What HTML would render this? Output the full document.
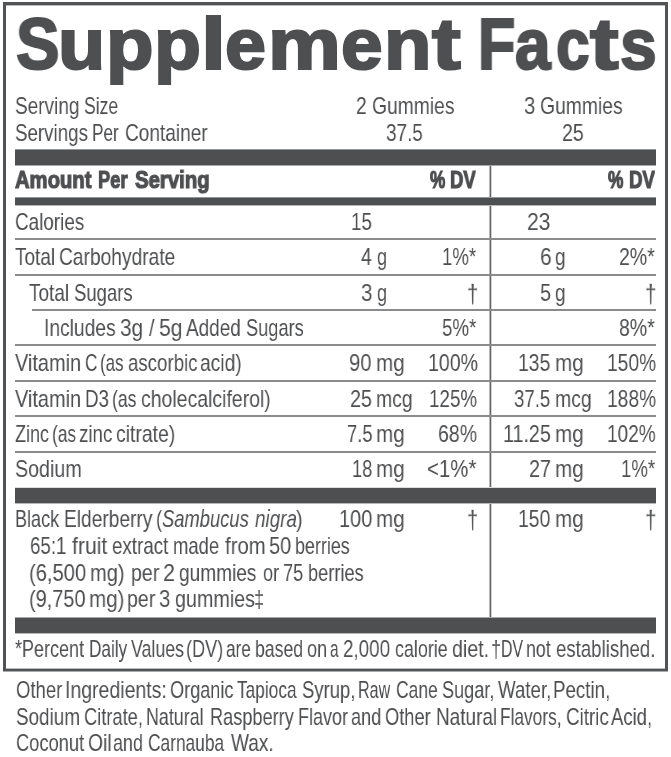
<!DOCTYPE html><html><head><meta charset="utf-8"><title>Supplement Facts</title><style>
html,body{margin:0;padding:0;background:#fff}
body{width:671px;height:757px;position:relative;overflow:hidden;font-family:"Liberation Sans",sans-serif;color:#4e4f51}
.t{position:absolute;white-space:pre;line-height:1;transform-origin:0 0;font-size:24px;will-change:transform}
.h{font-size:72px;font-weight:700;-webkit-text-stroke:2.2px currentColor}
.b{position:absolute;background:#4e4f51}
.l{position:absolute;background:#8a8b8d;height:2px}
</style></head><body>
<div style="position:absolute;left:3px;top:2px;width:665px;height:3px;background:#525355"></div>
<div style="position:absolute;left:6px;top:5px;width:659px;height:1px;background:#b9babb"></div>
<div style="position:absolute;left:3px;top:2px;width:3px;height:670px;background:#525355"></div>
<div style="position:absolute;left:665px;top:2px;width:3px;height:670px;background:#525355"></div>
<div style="position:absolute;left:3px;top:669px;width:665px;height:2px;background:#525355"></div>
<div style="position:absolute;left:6px;top:668px;width:659px;height:1px;background:#b9babb"></div>
<div style="position:absolute;left:3px;top:671px;width:665px;height:1px;background:#a8a9aa"></div>
<div style="position:absolute;left:489px;top:165px;width:1px;height:453px;background:#b6b6b7"></div>
<div style="position:absolute;left:490px;top:165px;width:1px;height:453px;background:#636466"></div>
<div style="position:absolute;left:491px;top:165px;width:1px;height:453px;background:#d3d3d4"></div>
<div class="b" style="left:15px;top:150px;width:641.00px;height:15.00px;"></div>
<div class="b" style="left:15px;top:149px;width:641.00px;height:1.00px;background:#949596"></div>
<div class="b" style="left:15px;top:165px;width:641.00px;height:1.00px;background:#a6a7a8"></div>
<div class="b" style="left:15px;top:198px;width:641.00px;height:7.00px;"></div>
<div class="b" style="left:15px;top:197px;width:641.00px;height:1.00px;background:#949596"></div>
<div class="b" style="left:15px;top:205px;width:641.00px;height:1.00px;background:#b8b8b9"></div>
<div class="b" style="left:15px;top:488px;width:641.00px;height:15.00px;"></div>
<div class="b" style="left:15px;top:487px;width:641.00px;height:1.00px;background:#dbdbdc"></div>
<div class="b" style="left:15px;top:503px;width:641.00px;height:1.00px;background:#b8b8b9"></div>
<div class="b" style="left:15px;top:618px;width:641.00px;height:15.00px;"></div>
<div class="b" style="left:15px;top:617px;width:641.00px;height:1.00px;background:#a6a7a8"></div>
<div class="b" style="left:15px;top:633px;width:641.00px;height:1.00px;background:#b8b8b9"></div>
<div class="l" style="left:15px;top:238px;width:641px"></div>
<div class="l" style="left:15px;top:274px;width:641px"></div>
<div class="l" style="left:32px;top:309px;width:624px"></div>
<div class="l" style="left:15px;top:344px;width:641px"></div>
<div class="l" style="left:15px;top:380px;width:641px"></div>
<div class="l" style="left:15px;top:415px;width:641px"></div>
<div class="l" style="left:15px;top:451px;width:641px"></div>
<span class="t h" style="left:15.51px;top:8px;transform:scaleX(0.9052);">S</span>
<span class="t h" style="left:57.88px;top:8px;transform:scaleX(1.0730);">u</span>
<span class="t h" style="left:106.00px;top:8px;transform:scaleX(1.0810);">p</span>
<span class="t h" style="left:153.85px;top:8px;transform:scaleX(1.0680);">p</span>
<span class="t h" style="left:200.69px;top:8px;transform:scaleX(1.2506);">l</span>
<span class="t h" style="left:225.12px;top:8px;transform:scaleX(1.0226);">e</span>
<span class="t h" style="left:268.29px;top:8px;transform:scaleX(1.1379);">m</span>
<span class="t h" style="left:341.49px;top:8px;transform:scaleX(1.0387);">e</span>
<span class="t h" style="left:384.40px;top:8px;transform:scaleX(1.0780);">n</span>
<span class="t h" style="left:432.07px;top:8px;transform:scaleX(1.1999);">t</span>
<span class="t h" style="left:478.05px;top:8px;transform:scaleX(0.8471);">F</span>
<span class="t h" style="left:514.61px;top:8px;transform:scaleX(0.8878);">a</span>
<span class="t h" style="left:555.94px;top:8px;transform:scaleX(0.8372);">c</span>
<span class="t h" style="left:590.17px;top:8px;transform:scaleX(1.1917);">t</span>
<span class="t h" style="left:620.18px;top:8px;transform:scaleX(0.9152);">s</span>
<span class="t" style="left:15.01px;top:94px;transform:scaleX(0.7924);">Serving</span>
<span class="t" style="left:84.37px;top:94px;transform:scaleX(0.7327);">Size</span>
<span class="t" style="left:15.02px;top:121px;transform:scaleX(0.7804);">Servings</span>
<span class="t" style="left:92.09px;top:121px;transform:scaleX(0.7165);">Per</span>
<span class="t" style="left:124.61px;top:121px;transform:scaleX(0.7942);">Container</span>
<span class="t" style="left:356.20px;top:94px;transform:scaleX(0.7988);">2</span>
<span class="t" style="left:371.70px;top:94px;transform:scaleX(0.8030);">Gummies</span>
<span class="t" style="left:386.31px;top:121px;transform:scaleX(0.7888);">37.5</span>
<span class="t" style="left:523.96px;top:94px;transform:scaleX(0.8473);">3</span>
<span class="t" style="left:539.70px;top:94px;transform:scaleX(0.8050);">Gummies</span>
<span class="t" style="left:562.18px;top:121px;transform:scaleX(0.8160);">25</span>
<span class="t" style="left:15.07px;top:168px;transform:scaleX(0.8427);font-weight:700;-webkit-text-stroke:1.2px currentColor;">Amount</span>
<span class="t" style="left:97.74px;top:168px;transform:scaleX(0.7632);font-weight:700;-webkit-text-stroke:1.2px currentColor;">Per</span>
<span class="t" style="left:135.00px;top:168px;transform:scaleX(0.8483);font-weight:700;-webkit-text-stroke:1.2px currentColor;">Serving</span>
<span class="t" style="left:429.80px;top:168px;transform:scaleX(0.7196);font-weight:700;-webkit-text-stroke:1.2px currentColor;">%</span>
<span class="t" style="left:450.43px;top:168px;transform:scaleX(0.7727);font-weight:700;-webkit-text-stroke:1.2px currentColor;">DV</span>
<span class="t" style="left:607.60px;top:168px;transform:scaleX(0.7243);font-weight:700;-webkit-text-stroke:1.2px currentColor;">%</span>
<span class="t" style="left:628.52px;top:168px;transform:scaleX(0.7788);font-weight:700;-webkit-text-stroke:1.2px currentColor;">DV</span>
<span class="t" style="left:15.01px;top:210px;transform:scaleX(0.7866);">Calories</span>
<span class="t" style="left:14.86px;top:245px;transform:scaleX(0.7926);">Total</span>
<span class="t" style="left:58.90px;top:245px;transform:scaleX(0.8000);">Carbohydrate</span>
<span class="t" style="left:29.26px;top:281px;transform:scaleX(0.7926);">Total</span>
<span class="t" style="left:73.53px;top:281px;transform:scaleX(0.7709);">Sugars</span>
<span class="t" style="left:44.00px;top:316px;transform:scaleX(0.8011);">Includes</span>
<span class="t" style="left:120.04px;top:316px;transform:scaleX(0.8660);">3g</span>
<span class="t" style="left:148.60px;top:316px;transform:scaleX(0.8143);">/</span>
<span class="t" style="left:158.92px;top:316px;transform:scaleX(0.8828);">5g</span>
<span class="t" style="left:186.00px;top:316px;transform:scaleX(0.7897);">Added</span>
<span class="t" style="left:245.64px;top:316px;transform:scaleX(0.7601);">Sugars</span>
<span class="t" style="left:15.30px;top:351px;transform:scaleX(0.8303);">Vitamin</span>
<span class="t" style="left:85.29px;top:351px;transform:scaleX(0.7138);">C</span>
<span class="t" style="left:99.62px;top:351px;transform:scaleX(0.7081);">(as</span>
<span class="t" style="left:127.62px;top:351px;transform:scaleX(0.7785);">ascorbic</span>
<span class="t" style="left:200.40px;top:351px;transform:scaleX(0.8028);">acid)</span>
<span class="t" style="left:15.30px;top:387px;transform:scaleX(0.8303);">Vitamin</span>
<span class="t" style="left:84.96px;top:387px;transform:scaleX(0.7823);">D3</span>
<span class="t" style="left:112.18px;top:387px;transform:scaleX(0.7340);">(as</span>
<span class="t" style="left:140.89px;top:387px;transform:scaleX(0.8104);">cholecalciferol)</span>
<span class="t" style="left:14.73px;top:422px;transform:scaleX(0.7505);">Zinc</span>
<span class="t" style="left:52.00px;top:422px;transform:scaleX(0.7243);">(as</span>
<span class="t" style="left:79.35px;top:422px;transform:scaleX(0.7794);">zinc</span>
<span class="t" style="left:116.39px;top:422px;transform:scaleX(0.8085);">citrate)</span>
<span class="t" style="left:14.98px;top:457px;transform:scaleX(0.8190);">Sodium</span>
<span class="t" style="left:351.06px;top:210px;transform:scaleX(0.7860);">15</span>
<span class="t" style="left:527.42px;top:210px;transform:scaleX(0.8793);">23</span>
<span class="t" style="left:360.95px;top:245px;transform:scaleX(0.8114);">4</span>
<span class="t" style="left:376.85px;top:245px;transform:scaleX(0.7545);">g</span>
<span class="t" style="left:442.18px;top:245px;transform:scaleX(0.7752);">1%*</span>
<span class="t" style="left:539.53px;top:245px;transform:scaleX(0.8716);">6</span>
<span class="t" style="left:555.21px;top:245px;transform:scaleX(0.7909);">g</span>
<span class="t" style="left:618.99px;top:245px;transform:scaleX(0.8119);">2%*</span>
<span class="t" style="left:360.85px;top:281px;transform:scaleX(0.8562);">3</span>
<span class="t" style="left:376.85px;top:281px;transform:scaleX(0.7545);">g</span>
<span class="t" style="left:466.82px;top:283px;transform:scale(0.8487,1.1);transform-origin:0 20px;">†</span>
<span class="t" style="left:539.57px;top:281px;transform:scaleX(0.8326);">5</span>
<span class="t" style="left:555.21px;top:281px;transform:scaleX(0.7909);">g</span>
<span class="t" style="left:645.10px;top:283px;transform:scale(0.8584,1.1);transform-origin:0 20px;">†</span>
<span class="t" style="left:442.02px;top:316px;transform:scaleX(0.7789);">5%*</span>
<span class="t" style="left:618.99px;top:316px;transform:scaleX(0.8119);">8%*</span>
<span class="t" style="left:349.45px;top:351px;transform:scaleX(0.8480);">90</span>
<span class="t" style="left:376.20px;top:351px;transform:scaleX(0.8593);">mg</span>
<span class="t" style="left:427.51px;top:351px;transform:scaleX(0.8154);">100%</span>
<span class="t" style="left:518.33px;top:351px;transform:scaleX(0.8064);">135</span>
<span class="t" style="left:554.60px;top:351px;transform:scaleX(0.8593);">mg</span>
<span class="t" style="left:606.63px;top:351px;transform:scaleX(0.8018);">150%</span>
<span class="t" style="left:350.08px;top:387px;transform:scaleX(0.8240);">25</span>
<span class="t" style="left:376.29px;top:387px;transform:scaleX(0.8071);">mcg</span>
<span class="t" style="left:429.37px;top:387px;transform:scaleX(0.7847);">125%</span>
<span class="t" style="left:514.03px;top:387px;transform:scaleX(0.7777);">37.5</span>
<span class="t" style="left:554.68px;top:387px;transform:scaleX(0.8095);">mcg</span>
<span class="t" style="left:606.63px;top:387px;transform:scaleX(0.8018);">188%</span>
<span class="t" style="left:346.73px;top:422px;transform:scaleX(0.7670);">7.5</span>
<span class="t" style="left:376.20px;top:422px;transform:scaleX(0.8593);">mg</span>
<span class="t" style="left:438.39px;top:422px;transform:scaleX(0.8138);">68%</span>
<span class="t" style="left:502.80px;top:422px;transform:scaleX(0.8204);">11.25</span>
<span class="t" style="left:554.60px;top:422px;transform:scaleX(0.8593);">mg</span>
<span class="t" style="left:607.15px;top:422px;transform:scaleX(0.7932);">102%</span>
<span class="t" style="left:352.00px;top:457px;transform:scaleX(0.7649);">18</span>
<span class="t" style="left:376.20px;top:457px;transform:scaleX(0.8593);">mg</span>
<span class="t" style="left:426.95px;top:457px;transform:scaleX(0.8514);">&lt;1%*</span>
<span class="t" style="left:528.88px;top:457px;transform:scaleX(0.8243);">27</span>
<span class="t" style="left:554.60px;top:457px;transform:scaleX(0.8593);">mg</span>
<span class="t" style="left:620.58px;top:457px;transform:scaleX(0.7752);">1%*</span>
<span class="t" style="left:14.82px;top:507px;transform:scaleX(0.7512);">Black</span>
<span class="t" style="left:63.53px;top:507px;transform:scaleX(0.7979);">Elderberry</span>
<span class="t" style="left:155.64px;top:507px;transform:scaleX(0.7579);">(</span>
<span class="t" style="left:162.49px;top:507px;transform:scaleX(0.7647);font-style:italic;">Sambucus</span>
<span class="t" style="left:254.70px;top:507px;transform:scaleX(0.7857);font-style:italic;">nigra</span>
<span class="t" style="left:296.46px;top:507px;transform:scaleX(0.8280);">)</span>
<span class="t" style="left:29.62px;top:534px;transform:scaleX(0.7813);">65:1</span>
<span class="t" style="left:72.30px;top:534px;transform:scaleX(0.8825);">fruit</span>
<span class="t" style="left:111.72px;top:534px;transform:scaleX(0.7831);">extract</span>
<span class="t" style="left:173.05px;top:534px;transform:scaleX(0.7685);">made</span>
<span class="t" style="left:225.00px;top:534px;transform:scaleX(0.8470);">from</span>
<span class="t" style="left:269.26px;top:534px;transform:scaleX(0.8360);">50</span>
<span class="t" style="left:295.32px;top:534px;transform:scaleX(0.7465);">berries</span>
<span class="t" style="left:28.72px;top:561px;transform:scaleX(0.8400);">(6,500</span>
<span class="t" style="left:89.94px;top:561px;transform:scaleX(0.8365);">mg)</span>
<span class="t" style="left:131.31px;top:561px;transform:scaleX(0.8151);">per</span>
<span class="t" style="left:163.40px;top:561px;transform:scaleX(0.8976);">2</span>
<span class="t" style="left:179.30px;top:561px;transform:scaleX(0.7953);">gummies</span>
<span class="t" style="left:262.64px;top:561px;transform:scaleX(0.7550);">or</span>
<span class="t" style="left:282.74px;top:561px;transform:scaleX(0.7600);">75</span>
<span class="t" style="left:308.10px;top:561px;transform:scaleX(0.7592);">berries</span>
<span class="t" style="left:28.73px;top:587px;transform:scaleX(0.8308);">(9,750</span>
<span class="t" style="left:88.90px;top:587px;transform:scaleX(0.8574);">mg)</span>
<span class="t" style="left:127.11px;top:587px;transform:scaleX(0.8151);">per</span>
<span class="t" style="left:158.96px;top:587px;transform:scaleX(0.8473);">3</span>
<span class="t" style="left:175.18px;top:587px;transform:scaleX(0.8215);">gummies</span>
<span class="t" style="left:254.08px;top:587px;transform:scaleX(0.7599);">‡</span>
<span class="t" style="left:339.28px;top:507px;transform:scaleX(0.8312);">100</span>
<span class="t" style="left:376.20px;top:507px;transform:scaleX(0.8593);">mg</span>
<span class="t" style="left:467.05px;top:509px;transform:scale(0.8294,1.1);transform-origin:0 20px;">†</span>
<span class="t" style="left:518.23px;top:507px;transform:scaleX(0.8071);">150</span>
<span class="t" style="left:554.60px;top:507px;transform:scaleX(0.8593);">mg</span>
<span class="t" style="left:645.00px;top:509px;transform:scale(0.8584,1.1);transform-origin:0 20px;">†</span>
<span class="t" style="left:15.34px;top:637px;transform:scaleX(0.7495);">*Percent</span>
<span class="t" style="left:88.69px;top:637px;transform:scaleX(0.7166);">Daily</span>
<span class="t" style="left:130.90px;top:637px;transform:scaleX(0.7408);">Values</span>
<span class="t" style="left:185.95px;top:637px;transform:scaleX(0.7553);">(DV)</span>
<span class="t" style="left:225.98px;top:637px;transform:scaleX(0.7171);">are</span>
<span class="t" style="left:254.73px;top:637px;transform:scaleX(0.7354);">based</span>
<span class="t" style="left:306.94px;top:637px;transform:scaleX(0.7568);">on</span>
<span class="t" style="left:330.26px;top:637px;transform:scaleX(0.6357);">a</span>
<span class="t" style="left:343.42px;top:637px;transform:scaleX(0.7846);">2,000</span>
<span class="t" style="left:395.25px;top:637px;transform:scaleX(0.7460);">calorie</span>
<span class="t" style="left:451.78px;top:637px;transform:scaleX(0.8169);">diet.</span>
<span class="t" style="left:490.67px;top:637px;transform:scaleX(0.7523);">†</span>
<span class="t" style="left:500.70px;top:637px;transform:scaleX(0.6600);">DV</span>
<span class="t" style="left:526.29px;top:637px;transform:scaleX(0.7413);">not</span>
<span class="t" style="left:556.42px;top:637px;transform:scaleX(0.7760);">established.</span>
<span class="t" style="left:15.53px;top:678px;transform:scaleX(0.7712);">Other</span>
<span class="t" style="left:65.08px;top:678px;transform:scaleX(0.8116);">Ingredients:</span>
<span class="t" style="left:170.14px;top:678px;transform:scaleX(0.7552);">Organic</span>
<span class="t" style="left:237.10px;top:678px;transform:scaleX(0.7192);">Tapioca</span>
<span class="t" style="left:301.93px;top:678px;transform:scaleX(0.7697);">Syrup,</span>
<span class="t" style="left:357.88px;top:678px;transform:scaleX(0.6709);">Raw</span>
<span class="t" style="left:395.77px;top:678px;transform:scaleX(0.7275);">Cane</span>
<span class="t" style="left:441.85px;top:678px;transform:scaleX(0.7546);">Sugar,</span>
<span class="t" style="left:497.60px;top:678px;transform:scaleX(0.7787);">Water,</span>
<span class="t" style="left:553.16px;top:678px;transform:scaleX(0.7807);">Pectin,</span>
<span class="t" style="left:15.51px;top:705px;transform:scaleX(0.7861);">Sodium</span>
<span class="t" style="left:83.54px;top:705px;transform:scaleX(0.7622);">Citrate,</span>
<span class="t" style="left:146.13px;top:705px;transform:scaleX(0.7443);">Natural</span>
<span class="t" style="left:209.51px;top:705px;transform:scaleX(0.7567);">Raspberry</span>
<span class="t" style="left:297.82px;top:705px;transform:scaleX(0.7503);">Flavor</span>
<span class="t" style="left:350.64px;top:705px;transform:scaleX(0.7553);">and</span>
<span class="t" style="left:385.24px;top:705px;transform:scaleX(0.7610);">Other</span>
<span class="t" style="left:435.94px;top:705px;transform:scaleX(0.7902);">Natural</span>
<span class="t" style="left:500.08px;top:705px;transform:scaleX(0.7208);">Flavors,</span>
<span class="t" style="left:566.02px;top:705px;transform:scaleX(0.7827);">Citric</span>
<span class="t" style="left:611.00px;top:705px;transform:scaleX(0.7705);">Acid,</span>
<span class="t" style="left:15.54px;top:731px;transform:scaleX(0.7620);">Coconut</span>
<span class="t" style="left:87.70px;top:731px;transform:scaleX(0.8037);">Oil</span>
<span class="t" style="left:113.45px;top:731px;transform:scaleX(0.7474);">and</span>
<span class="t" style="left:148.48px;top:731px;transform:scaleX(0.7222);">Carnauba</span>
<span class="t" style="left:230.90px;top:731px;transform:scaleX(0.7946);">Wax.</span>
</body></html>
